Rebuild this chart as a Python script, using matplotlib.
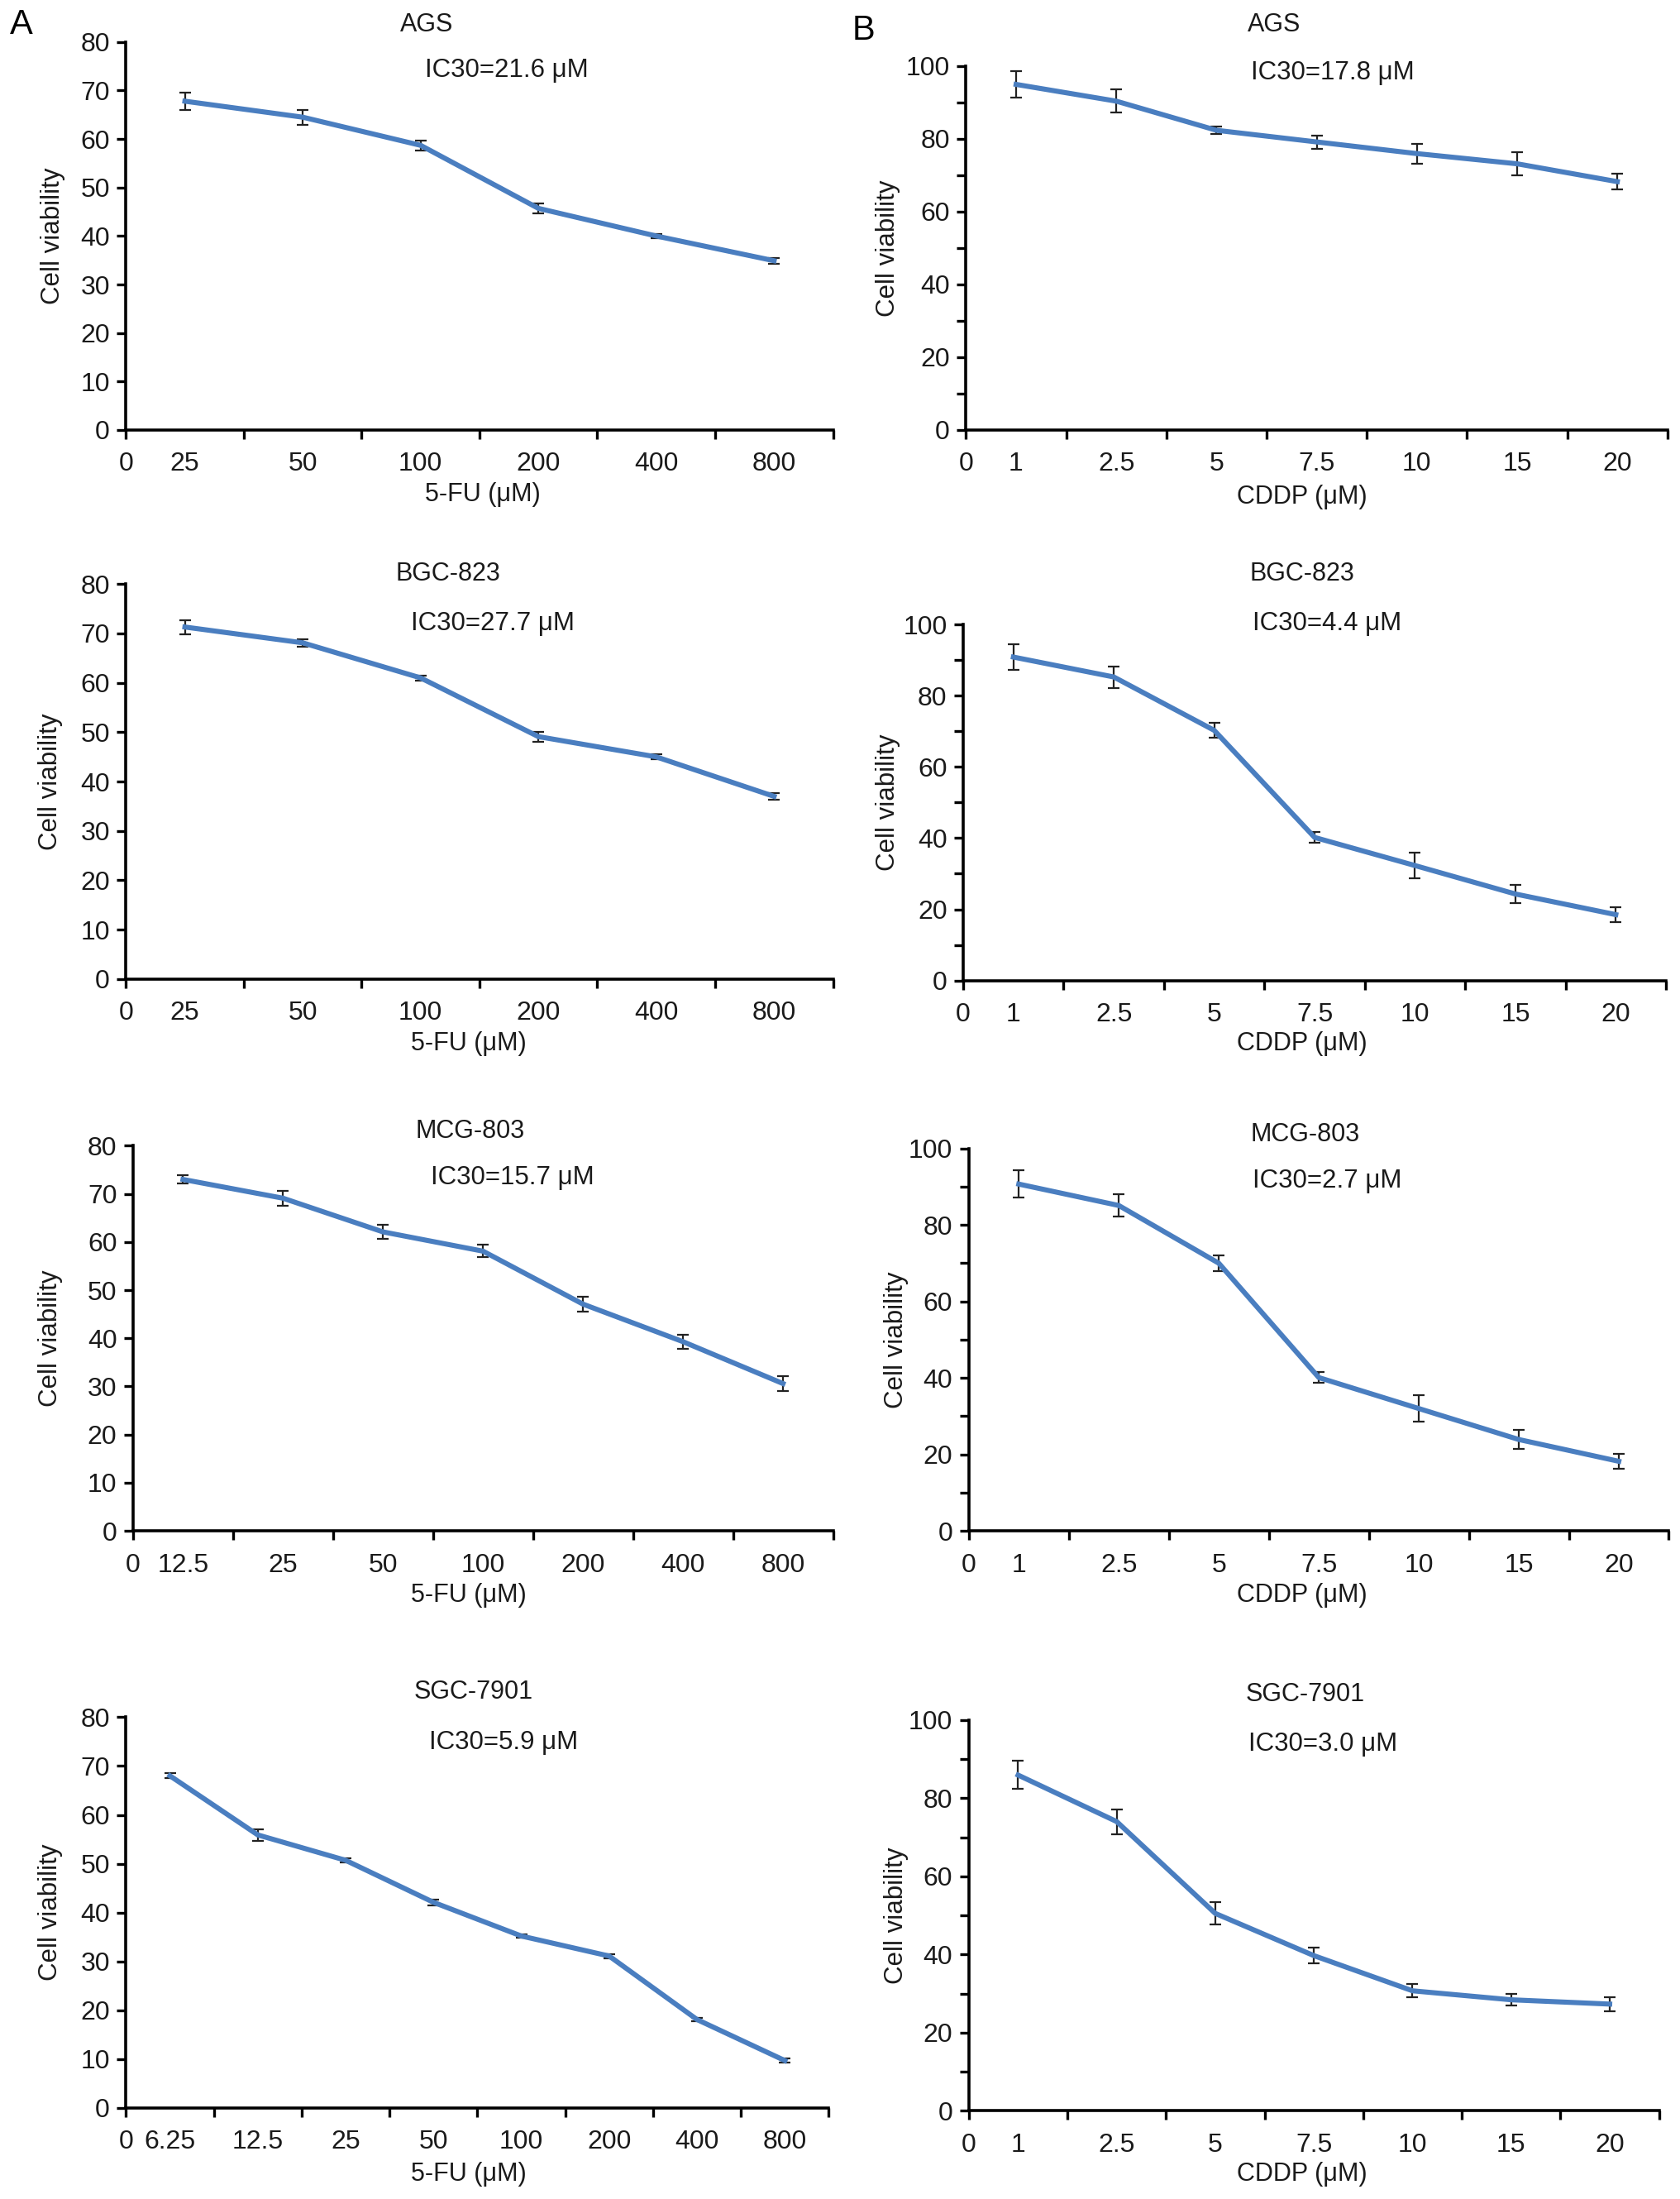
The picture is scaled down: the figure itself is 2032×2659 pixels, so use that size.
import matplotlib
matplotlib.use("Agg")
import matplotlib.pyplot as plt
from matplotlib import font_manager
from matplotlib.ticker import FixedLocator, NullFormatter, FixedFormatter

def pick(fams):
    for f in fams:
        try:
            font_manager.findfont(f, fallback_to_default=False)
            return f
        except Exception:
            pass
    return "DejaVu Sans"

NARROW = pick(["Liberation Sans Narrow", "Liberation Sans", "DejaVu Sans"])
REG = pick(["Liberation Sans", "DejaVu Sans"])

# ---------------- data ----------------
fu_cats_6 = ["25", "50", "100", "200", "400", "800"]
fu_cats_7 = ["12.5", "25", "50", "100", "200", "400", "800"]
fu_cats_8 = ["6.25", "12.5", "25", "50", "100", "200", "400", "800"]
cddp_cats = ["1", "2.5", "5", "7.5", "10", "15", "20"]

ags_fu = [67.8, 64.5, 58.7, 45.7, 40.0, 34.9]
ags_fu_err = [1.8, 1.5, 1.0, 1.0, 0.4, 0.6]
ags_cddp = [94.9, 90.3, 82.3, 79.1, 75.9, 73.1, 68.2]
ags_cddp_err = [3.7, 3.2, 1.1, 1.8, 2.7, 3.2, 2.1]

bgc_fu = [71.3, 68.1, 61.0, 49.1, 45.0, 37.0]
bgc_fu_err = [1.4, 0.8, 0.5, 1.0, 0.5, 0.6]
bgc_cddp = [90.9, 85.3, 70.3, 40.2, 32.3, 24.3, 18.5]
bgc_cddp_err = [3.6, 3.0, 2.1, 1.5, 3.6, 2.5, 2.1]

mcg_fu = [73.0, 69.1, 62.1, 58.1, 47.1, 39.3, 30.6]
mcg_fu_err = [0.8, 1.6, 1.5, 1.3, 1.5, 1.5, 1.5]
mcg_cddp = [90.7, 85.1, 70.0, 40.1, 32.0, 23.9, 18.2]
mcg_cddp_err = [3.6, 2.9, 2.1, 1.4, 3.5, 2.5, 2.0]

sgc_fu = [68.0, 55.9, 50.7, 42.1, 35.2, 31.1, 18.1, 9.7]
sgc_fu_err = [0.5, 1.2, 0.4, 0.6, 0.3, 0.4, 0.4, 0.4]
sgc_cddp = [85.9, 74.0, 50.5, 39.7, 30.7, 28.4, 27.3]
sgc_cddp_err = [3.6, 3.2, 2.9, 2.0, 1.7, 1.4, 1.8]

cell_lines = ["AGS", "BGC-823", "MCG-803", "SGC-7901"]
ic30_fu = ["IC30=21.6 \u03bcM", "IC30=27.7 \u03bcM", "IC30=15.7 \u03bcM", "IC30=5.9 \u03bcM"]
ic30_cddp = ["IC30=17.8 \u03bcM", "IC30=4.4 \u03bcM", "IC30=2.7 \u03bcM", "IC30=3.0 \u03bcM"]

fu_label = "5-FU (\u03bcM)"
cddp_label = "CDDP (\u03bcM)"
y_label = "Cell viability"

# ---------------- layout (reference px on a 1200x1570 grid) ----------------
W, H = 1200.0, 1570.0
fig = plt.figure(figsize=(20.32, 26.59), dpi=100)
fig.patch.set_facecolor("white")

LINE_C = "#4A7EC0"
TXT_C = "#1a1a1a"
TICK_FS = 23
IC_FS = 22.5
TITLE_FS = 22
XL_FS = 22
YL_FS = 22.5

def fx(x):
    return x / W

def fy(y):
    return 1 - y / H

panels = [
    # col A
    dict(box=(90, 595, 30, 307), cats=fu_cats_6, y=ags_fu, e=ags_fu_err, ymax=80, col="A",
         title=(305, 18), ic=(362, 50), ict=ic30_fu[0], name=cell_lines[0], ylab=(38,), xl=(345, 353)),
    dict(box=(90, 595, 417, 699), cats=fu_cats_6, y=bgc_fu, e=bgc_fu_err, ymax=80, col="A",
         title=(320, 410), ic=(352, 445), ict=ic30_fu[1], name=cell_lines[1], ylab=(36,), xl=(335, 745)),
    dict(box=(95, 595, 818, 1093), cats=fu_cats_7, y=mcg_fu, e=mcg_fu_err, ymax=80, col="A",
         title=(336, 808), ic=(366, 841), ict=ic30_fu[2], name=cell_lines[2], ylab=(36,), xl=(335, 1139)),
    dict(box=(90, 592, 1226, 1505), cats=fu_cats_8, y=sgc_fu, e=sgc_fu_err, ymax=80, col="A",
         title=(338, 1208), ic=(360, 1244), ict=ic30_fu[3], name=cell_lines[3], ylab=(36,), xl=(335, 1552)),
    # col B
    dict(box=(690, 1191, 47, 307), cats=cddp_cats, y=ags_cddp, e=ags_cddp_err, ymax=100, col="B",
         title=(910, 18), ic=(952, 52), ict=ic30_cddp[0], name=cell_lines[0], ylab=(634,), xl=(930, 355)),
    dict(box=(688, 1190, 446, 700), cats=cddp_cats, y=bgc_cddp, e=bgc_cddp_err, ymax=100, col="B",
         title=(930, 410), ic=(948, 445), ict=ic30_cddp[1], name=cell_lines[1], ylab=(634,), xl=(930, 745)),
    dict(box=(692, 1192, 820, 1093), cats=cddp_cats, y=mcg_cddp, e=mcg_cddp_err, ymax=100, col="B",
         title=(932, 810), ic=(948, 843), ict=ic30_cddp[2], name=cell_lines[2], ylab=(640,), xl=(930, 1139)),
    dict(box=(692, 1185, 1228, 1507), cats=cddp_cats, y=sgc_cddp, e=sgc_cddp_err, ymax=100, col="B",
         title=(932, 1210), ic=(945, 1245), ict=ic30_cddp[3], name=cell_lines[3], ylab=(640,), xl=(930, 1552)),
]

for p in panels:
    l, r, t, b = p["box"]
    ax = fig.add_axes([fx(l), fy(b), fx(r - l), (b - t) / H])
    n = len(p["cats"])
    xs = [i + 0.5 for i in range(n)]
    ax.errorbar(xs, p["y"], yerr=p["e"], color=LINE_C, lw=4.4, ecolor="#222222",
                elinewidth=1.6, capsize=5, capthick=1.6, zorder=3)
    ax.set_xlim(0, n)
    ax.set_ylim(0, p["ymax"])
    for s in ("top", "right"):
        ax.spines[s].set_visible(False)
    for s in ("left", "bottom"):
        ax.spines[s].set_linewidth(2.6)
        ax.spines[s].set_color("black")
    # x axis: ticks at category boundaries, labels at centres, "0" at origin
    ax.xaxis.set_major_locator(FixedLocator(list(range(n + 1))))
    ax.xaxis.set_major_formatter(FixedFormatter(["0"] + [""] * n))
    ax.xaxis.set_minor_locator(FixedLocator(xs))
    ax.xaxis.set_minor_formatter(FixedFormatter(p["cats"]))
    ax.tick_params(axis="x", which="major", direction="out", length=8, width=2.4,
                   pad=11, labelsize=TICK_FS)
    ax.tick_params(axis="x", which="minor", length=0, pad=19, labelsize=TICK_FS)
    # y axis
    if p["ymax"] == 80:
        ax.yaxis.set_major_locator(FixedLocator(list(range(0, 81, 10))))
    else:
        ax.yaxis.set_major_locator(FixedLocator(list(range(0, 101, 20))))
        ax.yaxis.set_minor_locator(FixedLocator(list(range(10, 100, 20))))
        ax.yaxis.set_minor_formatter(NullFormatter())
        ax.tick_params(axis="y", which="minor", direction="out", length=8, width=2.4)
    ax.tick_params(axis="y", which="major", direction="out", length=8, width=2.4,
                   pad=6, labelsize=TICK_FS)
    for lab in ax.get_xticklabels(which="both") + ax.get_yticklabels():
        lab.set_fontfamily(NARROW)
        lab.set_color(TXT_C)
    # texts
    fig.text(fx(p["title"][0]), fy(p["title"][1]), p["name"], ha="center", va="center",
             fontsize=TITLE_FS, family=NARROW, color=TXT_C)
    fig.text(fx(p["ic"][0]), fy(p["ic"][1]), p["ict"], ha="center", va="center",
             fontsize=IC_FS, family=NARROW, color=TXT_C)
    fig.text(fx(p["ylab"][0]), fy((t + b) / 2), y_label, ha="center", va="center",
             rotation=90, fontsize=YL_FS, family=REG, color=TXT_C)
    fig.text(fx(p["xl"][0]), fy(p["xl"][1]), fu_label if p["col"] == "A" else cddp_label,
             ha="center", va="center", fontsize=XL_FS, family=NARROW, color=TXT_C)

fig.text(fx(15), fy(18), "A", ha="center", va="center", fontsize=30, family=REG)
fig.text(fx(617), fy(22), "B", ha="center", va="center", fontsize=30, family=REG)

fig.savefig("out.png", dpi=100, facecolor="white")
